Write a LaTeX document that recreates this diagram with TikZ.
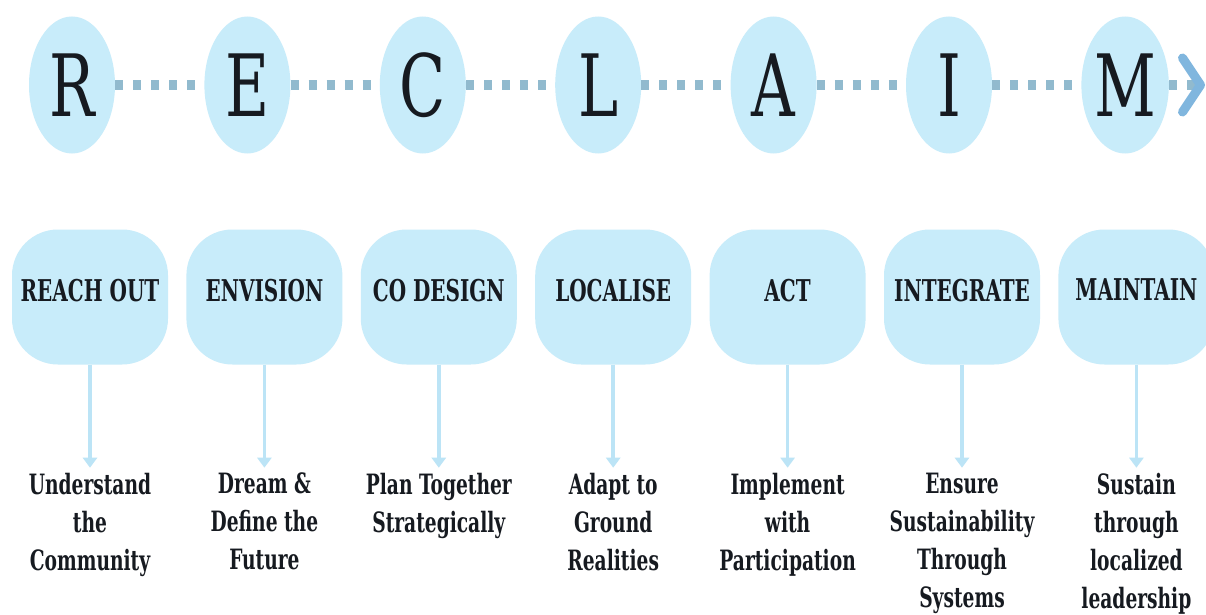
\documentclass[tikz,border=0pt]{standalone}
\usepackage{fontspec}
\newfontfamily\letterfont[FakeStretch=0.78]{DejaVu Serif Condensed}
\newfontfamily\stagefont[FakeStretch=0.74]{DejaVu Serif Condensed Bold}
\usetikzlibrary{shapes.geometric}
\usetikzlibrary{positioning}
\usetikzlibrary{arrows.meta}
\definecolor{bubble}{RGB}{200,236,250}
\definecolor{dotblue}{RGB}{145,186,206}
\definecolor{chevblue}{RGB}{128,182,222}
\definecolor{droplight}{RGB}{188,228,246}
\definecolor{ink}{RGB}{22,26,32}

\begin{document}
\begin{tikzpicture}[x=1pt,y=-1pt]
			\tikzstyle{letter}=[ellipse,fill=bubble,minimum width=86pt,minimum height=137pt,inner sep=0pt,text=ink,font=\letterfont\fontsize{86}{86}\selectfont]
			\tikzstyle{stage}=[rectangle,rounded corners=46pt,fill=bubble,minimum width=156pt,minimum height=135pt,inner sep=0pt,text depth=14pt,text=ink,font=\stagefont\fontsize{30}{30}\selectfont]
			\tikzstyle{aim}=[align=center,inner sep=0pt,text=ink,font=\stagefont\fontsize{28}{38}\selectfont]
			\tikzstyle{dotlink}=[dotblue,line width=10pt,dash pattern=on 8pt off 10pt]
			\tikzstyle{downarrow}=[droplight,line width=3.5pt,shorten >=5pt,-{Triangle[width=14pt,length=10pt]}]
			
			\fill[white] (0,0) rectangle (1206,615);
			\useasboundingbox (0,0) rectangle (1206,615);
			
			% letters
			\node[letter] (R) at (72,85) {R};
			\node[letter,right=89pt of R] (E) {E};
			\node[letter,right=89pt of E] (C) {C};
			\node[letter,right=89pt of C] (L) {L};
			\node[letter,right=89pt of L] (A) {A};
			\node[letter,right=89pt of A] (I) {I};
			\node[letter,right=89pt of I] (M) {M};
			\coordinate (tip) at (1205,85);
			
			\draw[dotlink] (R) -- (E);
			\draw[dotlink] (E) -- (C);
			\draw[dotlink] (C) -- (L);
			\draw[dotlink] (L) -- (A);
			\draw[dotlink] (A) -- (I);
			\draw[dotlink] (I) -- (M);
			\draw[dotlink,-{Straight Barb[length=18pt,width=54pt,line width=9pt,round,color=chevblue]}] (M) -- (tip);
			
			% stages
			\node[stage] (reach) at (90,297) {REACH OUT};
			\node[stage,right=18pt of reach] (envision) {ENVISION};
			\node[stage,right=18pt of envision] (codesign) {CO DESIGN};
			\node[stage,right=18pt of codesign] (localise) {LOCALISE};
			\node[stage,right=18pt of localise] (act) {ACT};
			\node[stage,right=18pt of act] (integrate) {INTEGRATE};
			\node[stage,right=18pt of integrate] (maintain) {MAINTAIN};
			
			% aims
			\node[aim,below=108pt of reach] (understand) {Understand\\the\\Community};
			\node[aim,below=108pt of envision] (dream) {Dream \&\\Define the\\Future};
			\node[aim,below=108pt of codesign] (plan) {Plan Together\\Strategically};
			\node[aim,below=108pt of localise] (adapt) {Adapt to\\Ground\\Realities};
			\node[aim,below=108pt of act] (implement) {Implement\\with\\Participation};
			\node[aim,below=108pt of integrate] (ensure) {Ensure\\Sustainability\\Through\\Systems};
			\node[aim,below=108pt of maintain] (sustain) {Sustain\\through\\localized\\leadership};
			
			\draw[downarrow] (reach) -- (understand);
			\draw[downarrow] (envision) -- (dream);
			\draw[downarrow] (codesign) -- (plan);
			\draw[downarrow] (localise) -- (adapt);
			\draw[downarrow] (act) -- (implement);
			\draw[downarrow] (integrate) -- (ensure);
			\draw[downarrow] (maintain) -- (sustain);
\end{tikzpicture}
\end{document}
